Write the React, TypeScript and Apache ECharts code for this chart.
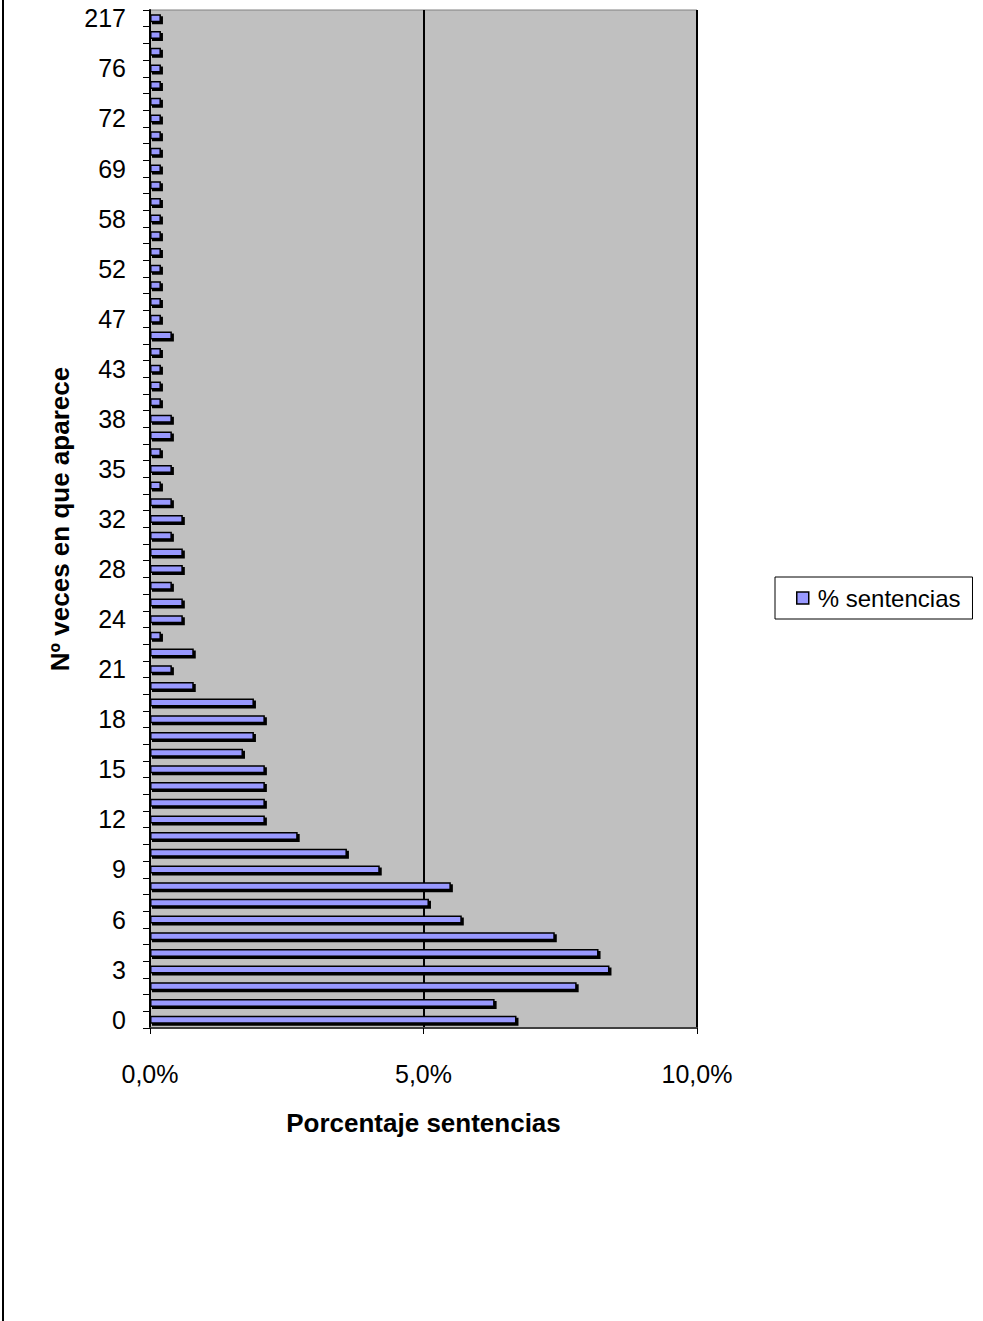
import React, { useEffect, useRef } from "react";
import * as echarts from "echarts";

const categories: string[] = [
  "0", "1", "2", "3", "4", "5", "6", "7", "8", "9", "10", "11", "12", "13", "14", "15", "16", "17", "18", "19", "20",
  "21", "22", "23", "24", "25", "26", "28", "29", "30", "32", "33", "34", "35", "36", "37", "38", "40", "41", "43",
  "44", "45", "47", "49", "50", "52", "54", "56", "58", "62", "65", "69", "70", "71", "72", "73", "74", "76", "84",
  "99", "217",
];

const sentencias: number[] = [
  6.7, 6.3, 7.8, 8.4, 8.2, 7.4, 5.7, 5.1, 5.5, 4.2, 3.6, 2.7, 2.1, 2.1, 2.1, 2.1, 1.7, 1.9, 2.1, 1.9, 0.8,
  0.4, 0.8, 0.2, 0.6, 0.6, 0.4, 0.6, 0.6, 0.4, 0.6, 0.4, 0.2, 0.4, 0.2, 0.4, 0.4, 0.2, 0.2, 0.2,
  0.2, 0.4, 0.2, 0.2, 0.2, 0.2, 0.2, 0.2, 0.2, 0.2, 0.2, 0.2, 0.2, 0.2, 0.2, 0.2, 0.2, 0.2, 0.2,
  0.2, 0.2,
];

const xTicks = { min: 0, max: 10, interval: 5 };

const FONT = "'Liberation Sans', Arial, sans-serif";

export default function App() {
  const ref = useRef<HTMLDivElement>(null);
  useEffect(() => {
    if (!ref.current) return;
    const chart = echarts.init(ref.current, undefined, { renderer: "svg" });
    chart.setOption({
      animation: false,
      backgroundColor: "#ffffff",
      textStyle: { fontFamily: FONT, color: "#000" },
      grid: {
        left: 150,
        right: 286,
        top: 10,
        bottom: 293,
        show: true,
        backgroundColor: "#c0c0c0",
        borderColor: "#808080",
        borderWidth: 1,
      },
      legend: {
        left: 775,
        top: 577,
        orient: "vertical",
        padding: [9, 12, 9, 21],
        borderColor: "#000",
        borderWidth: 1,
        backgroundColor: "#fff",
        itemWidth: 12,
        itemHeight: 12,
        icon: "rect",
        itemStyle: {
          color: "#9999ff",
          borderColor: "#000",
          borderWidth: 1.5,
          shadowBlur: 0,
          shadowOffsetX: 0,
          shadowOffsetY: 0,
          shadowColor: "transparent",
        },
        textStyle: { fontFamily: FONT, fontSize: 24, color: "#000", padding: [0, 0, 0, 4] },
        data: ["% sentencias"],
      },
      xAxis: {
        type: "value",
        min: xTicks.min,
        max: xTicks.max,
        interval: xTicks.interval,
        name: "Porcentaje sentencias",
        nameLocation: "middle",
        nameGap: 82,
        nameTextStyle: { fontFamily: FONT, fontSize: 26, fontWeight: "bold", color: "#000" },
        axisLine: { show: true, lineStyle: { color: "#404040", width: 2 } },
        axisTick: { show: true, length: 6, lineStyle: { color: "#000" } },
        axisLabel: {
          margin: 33,
          fontFamily: FONT,
          fontSize: 25,
          color: "#000",
          formatter: (v: number) => v.toFixed(1).replace(".", ",") + "%",
        },
        splitLine: { show: true, lineStyle: { color: "#000", width: 2 } },
      },
      yAxis: {
        type: "category",
        data: categories,
        name: "Nº veces en que aparece",
        nameLocation: "middle",
        nameGap: 66,
        nameRotate: 90,
        nameTextStyle: { fontFamily: FONT, fontSize: 26, fontWeight: "bold", color: "#000" },
        axisLine: { show: true, lineStyle: { color: "#000", width: 2 } },
        axisTick: { show: true, interval: 0, length: 7, lineStyle: { color: "#000" } },
        axisLabel: { interval: 2, margin: 24, fontFamily: FONT, fontSize: 25, color: "#000", padding: [9, 0, 0, 0] },
        splitLine: { show: false },
      },
      series: [
        {
          name: "% sentencias",
          type: "bar",
          data: sentencias,
          barWidth: 8,
          itemStyle: {
            color: "#9999ff",
            borderColor: "#000",
            borderWidth: 1.5,
            shadowColor: "#000",
            shadowBlur: 0,
            shadowOffsetX: 2,
            shadowOffsetY: 2,
          },
        },
      ],
      graphic: [
        {
          type: "line",
          shape: { x1: 3, y1: 0, x2: 3, y2: 1321 },
          style: { stroke: "#000", lineWidth: 2 },
        },
      ],
    });
    return () => chart.dispose();
  }, []);
  return (
    <div
      ref={ref}
      style={{ position: "absolute", left: 0, top: 0, width: 983, height: 1321 }}
    />
  );
}
